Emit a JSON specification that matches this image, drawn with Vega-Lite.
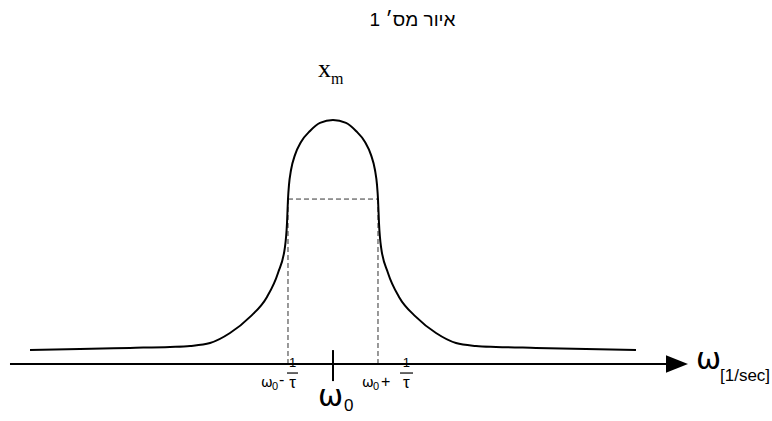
{
  "$schema": "https://vega.github.io/schema/vega-lite/v6.json",
  "width": 772,
  "height": 421,
  "padding": 0,
  "autosize": {"type": "fit", "contains": "padding"},
  "background": "white",
  "config": {"view": {"stroke": null}},
  "datasets": {
    "response": [
      {"w": -6.733, "a": 0.057}, {"w": -5.622, "a": 0.061}, {"w": -4.511, "a": 0.066},
      {"w": -3.622, "a": 0.070}, {"w": -3.178, "a": 0.074}, {"w": -2.733, "a": 0.086},
      {"w": -2.289, "a": 0.127}, {"w": -1.844, "a": 0.193}, {"w": -1.467, "a": 0.275},
      {"w": -1.222, "a": 0.373}, {"w": -1.067, "a": 0.480}, {"w": -1.022, "a": 0.578},
      {"w": -1.0, "a": 0.676}, {"w": -0.978, "a": 0.734}, {"w": -0.933, "a": 0.795},
      {"w": -0.844, "a": 0.857}, {"w": -0.711, "a": 0.910}, {"w": -0.511, "a": 0.955},
      {"w": -0.289, "a": 0.988}, {"w": 0.0, "a": 1.0},
      {"w": 0.289, "a": 0.988}, {"w": 0.511, "a": 0.955}, {"w": 0.711, "a": 0.910},
      {"w": 0.844, "a": 0.857}, {"w": 0.933, "a": 0.795}, {"w": 0.978, "a": 0.734},
      {"w": 1.0, "a": 0.676}, {"w": 1.022, "a": 0.578}, {"w": 1.067, "a": 0.480},
      {"w": 1.222, "a": 0.373}, {"w": 1.467, "a": 0.275}, {"w": 1.844, "a": 0.193},
      {"w": 2.289, "a": 0.127}, {"w": 2.733, "a": 0.086}, {"w": 3.178, "a": 0.074},
      {"w": 3.622, "a": 0.070}, {"w": 4.511, "a": 0.066}, {"w": 5.622, "a": 0.061},
      {"w": 6.733, "a": 0.057}
    ],
    "bandwidth": [
      {"w": -1.0, "w2": 1.0, "a": 0.676, "a2": 0.676},
      {"w": -1.0, "w2": -1.0, "a": 0.0, "a2": 0.676},
      {"w": 1.0, "w2": 1.0, "a": 0.0, "a2": 0.676}
    ],
    "axisLine": [{"w": -7.178, "w2": 7.5, "a": 0.0, "a2": 0.0}],
    "arrowHead": [{"w": 7.644, "a": 0.0}],
    "centerTick": [{"w": 0.0, "w2": 0.0, "a": 0.057, "a2": -0.070}],
    "fractionBars": [
      {"w": -1.022, "w2": -0.778, "a": -0.037, "a2": -0.037},
      {"w": 1.489, "w2": 1.778, "a": -0.037, "a2": -0.037}
    ],
    "smallSymbols": [
      {"label": "ω", "w": -1.6, "a": -0.094},
      {"label": "ω", "w": 0.644, "a": -0.094}
    ],
    "smallSigns": [
      {"label": "-", "w": -1.2, "a": -0.088},
      {"label": "+", "w": 1.067, "a": -0.094}
    ],
    "smallSubs": [
      {"label": "0", "w": -1.356, "a": -0.107},
      {"label": "0", "w": 0.889, "a": -0.107}
    ],
    "numerators": [
      {"label": "1", "w": -0.9, "a": -0.012},
      {"label": "1", "w": 1.633, "a": -0.012}
    ],
    "denominators": [
      {"label": "τ", "w": -0.9, "a": -0.100},
      {"label": "τ", "w": 1.633, "a": -0.100}
    ],
    "bigSymbols": [
      {"label": "ω", "w": -0.333, "a": -0.172},
      {"label": "ω", "w": 8.067, "a": -0.020}
    ],
    "bigSubs": [
      {"label": "0", "w": 0.244, "a": -0.193},
      {"label": "[1/sec]", "w": 8.6, "a": -0.070}
    ],
    "peakLabel": [{"label": "x", "w": -0.333, "a": 1.176}],
    "peakSub": [{"label": "m", "w": -0.044, "a": 1.148}],
    "heading": [{"label": "איור מס׳ 1", "w": 1.767, "a": 1.385}]
  },
  "encoding": {
    "x": {"field": "w", "type": "quantitative", "scale": {"domain": [-7.4, 9.7556], "nice": false, "zero": false}, "axis": null},
    "y": {"field": "a", "type": "quantitative", "scale": {"domain": [-0.2336, 1.4918], "nice": false, "zero": false}, "axis": null}
  },
  "layer": [
    {
      "data": {"name": "bandwidth"},
      "mark": {"type": "rule", "color": "#333333", "strokeWidth": 1, "strokeDash": [5, 3]},
      "encoding": {"x2": {"field": "w2"}, "y2": {"field": "a2"}}
    },
    {
      "data": {"name": "axisLine"},
      "mark": {"type": "rule", "color": "black", "strokeWidth": 2},
      "encoding": {"x2": {"field": "w2"}, "y2": {"field": "a2"}}
    },
    {
      "data": {"name": "arrowHead"},
      "mark": {"type": "point", "shape": "M-1,-0.8L1,0L-1,0.8Z", "size": 484, "filled": true, "color": "black", "opacity": 1}
    },
    {
      "data": {"name": "centerTick"},
      "mark": {"type": "rule", "color": "black", "strokeWidth": 2},
      "encoding": {"x2": {"field": "w2"}, "y2": {"field": "a2"}}
    },
    {
      "data": {"name": "fractionBars"},
      "mark": {"type": "rule", "color": "black", "strokeWidth": 1.2},
      "encoding": {"x2": {"field": "w2"}, "y2": {"field": "a2"}}
    },
    {
      "data": {"name": "response"},
      "mark": {"type": "line", "color": "black", "strokeWidth": 2, "interpolate": "monotone"}
    },
    {
      "data": {"name": "smallSymbols"},
      "mark": {"type": "text", "font": "DejaVu Sans", "fontSize": 14, "align": "left", "baseline": "alphabetic", "color": "black"},
      "encoding": {"text": {"field": "label"}}
    },
    {
      "data": {"name": "smallSigns"},
      "mark": {"type": "text", "font": "Liberation Sans", "fontSize": 16, "align": "left", "baseline": "alphabetic", "color": "black"},
      "encoding": {"text": {"field": "label"}}
    },
    {
      "data": {"name": "smallSubs"},
      "mark": {"type": "text", "font": "Liberation Sans", "fontSize": 11, "align": "left", "baseline": "alphabetic", "color": "black"},
      "encoding": {"text": {"field": "label"}}
    },
    {
      "data": {"name": "numerators"},
      "mark": {"type": "text", "font": "Liberation Sans", "fontSize": 13, "align": "center", "baseline": "alphabetic", "color": "black"},
      "encoding": {"text": {"field": "label"}}
    },
    {
      "data": {"name": "denominators"},
      "mark": {"type": "text", "font": "Liberation Sans", "fontSize": 17, "align": "center", "baseline": "alphabetic", "color": "black"},
      "encoding": {"text": {"field": "label"}}
    },
    {
      "data": {"name": "bigSymbols"},
      "mark": {"type": "text", "font": "DejaVu Sans", "fontSize": 30, "align": "left", "baseline": "alphabetic", "color": "black"},
      "encoding": {"text": {"field": "label"}}
    },
    {
      "data": {"name": "bigSubs"},
      "mark": {"type": "text", "font": "Liberation Sans", "fontSize": 17, "align": "left", "baseline": "alphabetic", "color": "black"},
      "encoding": {"text": {"field": "label"}}
    },
    {
      "data": {"name": "peakLabel"},
      "mark": {"type": "text", "font": "Liberation Serif", "fontSize": 26, "align": "left", "baseline": "alphabetic", "color": "black"},
      "encoding": {"text": {"field": "label"}}
    },
    {
      "data": {"name": "peakSub"},
      "mark": {"type": "text", "font": "Liberation Serif", "fontSize": 16, "align": "left", "baseline": "alphabetic", "color": "black"},
      "encoding": {"text": {"field": "label"}}
    },
    {
      "data": {"name": "heading"},
      "mark": {"type": "text", "font": "Liberation Sans", "fontSize": 19, "align": "center", "baseline": "alphabetic", "color": "black"},
      "encoding": {"text": {"field": "label"}}
    }
  ]
}
